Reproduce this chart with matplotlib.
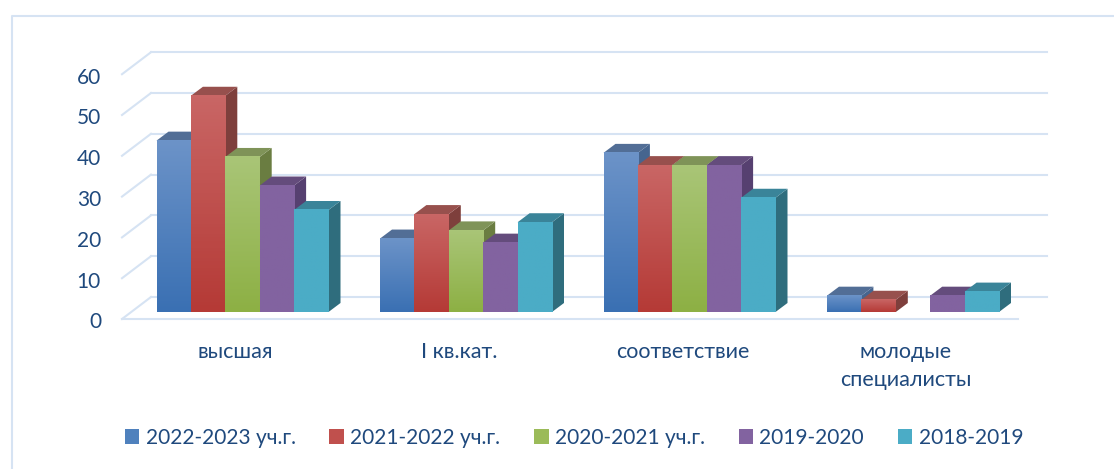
import numpy as np
import matplotlib
matplotlib.use("Agg")
import matplotlib.pyplot as plt
from matplotlib.colors import to_rgb
from matplotlib.patches import Patch, Polygon

groups = ["высшая", "I кв.кат.", "соответствие", "молодые\nспециалисты"]
series = ["2022-2023 уч.г.", "2021-2022 уч.г.", "2020-2021 уч.г.", "2019-2020", "2018-2019"]
v_2022 = [42, 18, 39, 4]
v_2021 = [53, 24, 36, 3]
v_2020 = [38, 20, 36, 0]
v_2019 = [31, 17, 36, 4]
v_2018 = [25, 22, 28, 5]
y_ticks = [0, 10, 20, 30, 40, 50, 60]

values = [v_2022, v_2021, v_2020, v_2019, v_2018]
col_top = ["#6C93C8", "#C96665", "#A9C577", "#8263A0", "#4BACC6"]
col_bot = ["#3A70B3", "#B53A36", "#8DB044", "#8263A0", "#4BACC6"]
col_key = ["#4F81BD", "#C0504D", "#9BBB59", "#8263A0", "#4BACC6"]
col_lid = ["#526E96", "#97504D", "#7F9358", "#644C7C", "#3A8499"]
col_side = ["#46658F", "#7E3F3C", "#6A7D41", "#564070", "#2F6D7D"]
text_col = "#1F497D"
line_col = "#D6E3F3"

plt.rcParams["font.family"] = ["Lato", "DejaVu Sans"]

W, H = 1114, 469
fig = plt.figure(figsize=(W / 100, H / 100), dpi=100)
ax = fig.add_axes([0, 0, 1, 1])

# one x unit = one category, one y unit = one value point
px_x = 223.5
px_y = 4.08
x_left = -156.5 / px_x
y_bottom = -(H - 312) / px_y
y_top = 312 / px_y
x_right = x_left + W / px_x
bar_w = 34.4 / px_x

# 3d offsets
bar_dx, bar_dy = 12 / px_x, 9 / px_y
wall_x0, wall_x1 = (151 - 156.5) / px_x, (1047 - 156.5) / px_x
floor_x0, floor_x1 = (122 - 156.5) / px_x, (1018 - 156.5) / px_x
wall_y = 15 / px_y
floor_y = -7 / px_y

for t in y_ticks:
    ax.plot([floor_x0, wall_x0], [t + floor_y, t + wall_y], color=line_col, lw=1.5, zorder=1)
    ax.plot([wall_x0, wall_x1], [t + wall_y, t + wall_y], color=line_col, lw=1.5, zorder=1)
    ax.text(floor_x0 - 21 / px_x, t + floor_y - 3.5 / px_y, str(t), ha="right", va="center",
            color=text_col, fontsize=15)
ax.plot([floor_x0, floor_x1], [floor_y, floor_y], color=line_col, lw=1.5, zorder=1)

# frame, open on the right
ax.plot([x_left + 12 / px_x, x_left + 12 / px_x, x_right],
        [y_bottom, y_top - 16 / px_y, y_top - 16 / px_y], color=line_col, lw=1.5, zorder=1)

z = 2
for g in range(len(groups)):
    for s in range(len(series)):
        v = values[s][g]
        if v == 0:
            continue
        x0 = g + s * bar_w
        x1 = x0 + bar_w
        ax.add_patch(Polygon([(x1, 0), (x1 + bar_dx, bar_dy), (x1 + bar_dx, v + bar_dy), (x1, v)],
                             facecolor=col_side[s], edgecolor="none", zorder=z))
        ax.add_patch(Polygon([(x0, v), (x0 + bar_dx, v + bar_dy), (x1 + bar_dx, v + bar_dy), (x1, v)],
                             facecolor=col_lid[s], edgecolor="none", zorder=z))
        ax.bar(x0, v, width=bar_w, align="edge", color=col_bot[s], zorder=z + 0.1)
        grad = np.linspace(to_rgb(col_top[s]), to_rgb(col_bot[s]), 64)[:, None, :]
        ax.imshow(grad, extent=[x0, x1, 0, v], aspect="auto", origin="upper", zorder=z + 0.2)
        z += 1

for g, name in enumerate(groups):
    ax.text(g + 2.5 * bar_w - 7 / px_x, -(342 - 312) / px_y, name, ha="center", va="top",
            color=text_col, fontsize=15.5, linespacing=1.5)

handles = [Patch(facecolor=col_key[s], label=series[s]) for s in range(len(series))]
ax.legend(handles=handles, ncols=5, loc="center", bbox_to_anchor=(574 / W, 1 - 438 / H),
          frameon=False, fontsize=15, labelcolor=text_col, handlelength=0.7, handleheight=0.7,
          handletextpad=0.3, columnspacing=1.62, borderpad=0)

ax.set_xlim(x_left, x_right)
ax.set_ylim(y_bottom, y_top)
ax.axis("off")

fig.savefig("out.png", dpi=100)
